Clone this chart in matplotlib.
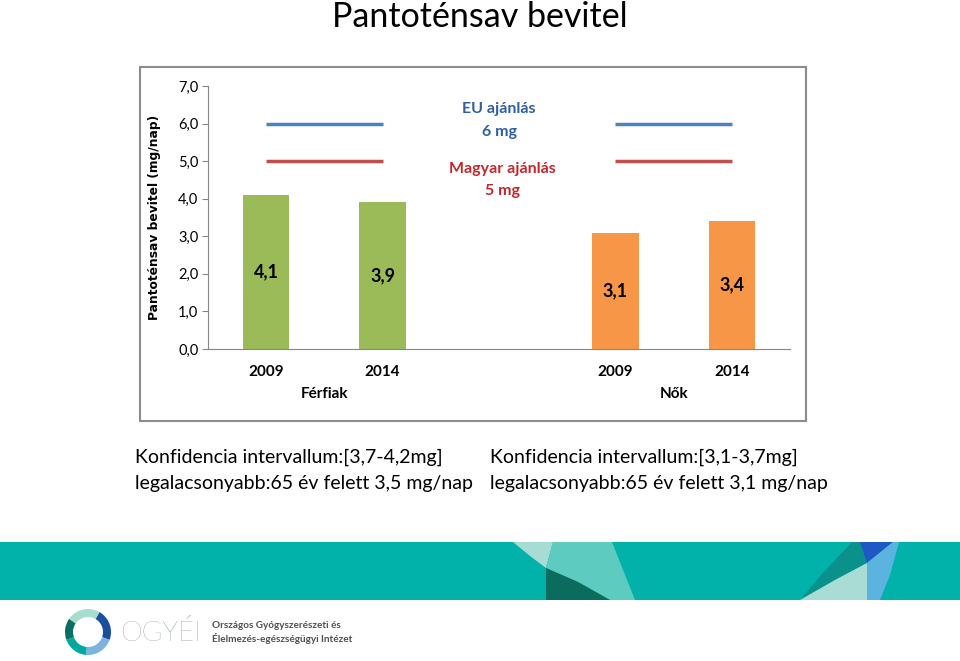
import numpy as np
import matplotlib
matplotlib.use('Agg')
import matplotlib.pyplot as plt
from matplotlib.patches import Rectangle, Polygon, Wedge

plt.rcParams['font.family'] = ['Lato', 'DejaVu Sans']

# data
groups = ['Férfiak', 'Nők']
years = ['2009', '2014']
values = [[4.1, 3.9], [3.1, 3.4]]
bar_colors = ['#9BBB59', '#F79646']
eu_ref = 6.0
hu_ref = 5.0
yticks = [0, 1, 2, 3, 4, 5, 6, 7]
title = 'Pantoténsav bevitel'
ylabel = 'Pantoténsav bevitel (mg/nap)'
notes_left = ['Konfidencia intervallum:[3,7-4,2mg]', 'legalacsonyabb:65 év felett 3,5 mg/nap']
notes_right = ['Konfidencia intervallum:[3,1-3,7mg]', 'legalacsonyabb:65 év felett 3,1 mg/nap']

def fmt(v):
    return ('%.1f' % v).replace('.', ',')

fig = plt.figure(figsize=(9.6, 6.61), dpi=100)

# background layer in pixel units
bg = fig.add_axes([0, 0, 1, 1], zorder=0)
bg.set_xlim(0, 960)
bg.set_ylim(661, 0)
bg.axis('off')

bg.text(480, 17, title, ha='center', va='center', fontsize=24.5, color='black')

# chart frame
bg.add_patch(Rectangle((140, 67), 666, 354, facecolor='white', edgecolor='#8C8C8C', lw=1.5))

# notes
for i, t in enumerate(notes_left):
    bg.text(135, 457 + i * 26, t, ha='left', va='center', fontsize=14)
for i, t in enumerate(notes_right):
    bg.text(490, 457 + i * 26, t, ha='left', va='center', fontsize=14)

# banner
bg.add_patch(Rectangle((0, 542), 960, 58, facecolor='#00B2A9', edgecolor='none'))
bg.add_patch(Polygon([(513, 542), (553, 542), (546, 568), (530, 556)], facecolor='#A6DCD4', edgecolor='none'))
bg.add_patch(Polygon([(553, 542), (612, 542), (635, 600), (610, 600), (578, 582), (546, 568)], facecolor='#5DCBC0', edgecolor='none'))
bg.add_patch(Polygon([(546, 568), (578, 582), (610, 600), (546, 600)], facecolor='#0B6B5C', edgecolor='none'))
bg.add_patch(Polygon([(800, 600), (822, 574), (852, 542), (862, 542), (867, 563), (835, 580)], facecolor='#0A918B', edgecolor='none'))
bg.add_patch(Polygon([(860, 542), (893, 542), (867, 563)], facecolor='#1E58C4', edgecolor='none'))
bg.add_patch(Polygon([(800, 600), (835, 580), (867, 563), (867, 600)], facecolor='#A9DCD5', edgecolor='none'))
bg.add_patch(Polygon([(867, 563), (893, 542), (899, 542), (890, 575), (880, 600), (867, 600)], facecolor='#5BB4E0', edgecolor='none'))

# logo
ring = [(-60, 20, '#1B4F9C'), (20, 95, '#7DB3E0'), (95, 160, '#00A99D'),
        (160, 215, '#0B6E62'), (215, 300, '#A8DCCF')]
for a1, a2, c in ring:
    bg.add_patch(Wedge((88, 632), 23, a1, a2, width=8, facecolor=c, edgecolor='none'))
bg.text(120, 633, 'OGYÉI', ha='left', va='center', fontsize=20, color='#6E8088', fontweight='light')
bg.text(212, 626, 'Országos Gyógyszerészeti és', ha='left', va='center', fontsize=7.2, color='#505050', fontweight='bold')
bg.text(212, 638, 'Élelmezés-egészségügyi Intézet', ha='left', va='center', fontsize=7.2, color='#505050', fontweight='bold')

# chart
ax = fig.add_axes([208 / 960, 1 - 349 / 661, 582 / 960, 263 / 661], zorder=1)
ax.set_facecolor('none')
ax.set_xlim(-0.5, 4.5)
ax.set_ylim(0, 7)

for gi, g in enumerate(groups):
    xs = [gi * 3 + j for j in range(len(years))]
    ax.bar(xs, values[gi], width=0.4, color=bar_colors[gi], zorder=2)
    for x, v, yr in zip(xs, values[gi], years):
        ax.text(x, v / 2, fmt(v), ha='center', va='center', fontsize=13, fontweight='bold')
        ax.text(x, -0.61, yr, ha='center', va='center', fontsize=11, fontweight='bold', clip_on=False)
    ax.text(np.mean(xs), -1.2, g, ha='center', va='center', fontsize=11, fontweight='bold', clip_on=False)
    ax.hlines(eu_ref, xs[0], xs[-1], color='#4F81BD', lw=2.5, zorder=3)
    ax.hlines(hu_ref, xs[0], xs[-1], color='#C0504D', lw=2.5, zorder=3)

ax.text(2.0, eu_ref + 0.39, 'EU ajánlás', ha='center', va='center', fontsize=11.5, fontweight='bold', color='#2F5EA3')
ax.text(2.0, eu_ref - 0.22, f'{eu_ref:.0f} mg', ha='center', va='center', fontsize=11.5, fontweight='bold', color='#2F5EA3')
ax.text(2.03, hu_ref - 0.21, 'Magyar ajánlás', ha='center', va='center', fontsize=11.5, fontweight='bold', color='#C0282D')
ax.text(2.03, hu_ref - 0.79, f'{hu_ref:.0f} mg', ha='center', va='center', fontsize=11.5, fontweight='bold', color='#C0282D')

ax.set_yticks(yticks)
ax.set_yticklabels([fmt(v) for v in yticks], fontsize=10.5)
ax.set_xticks([])
for s in ['top', 'right']:
    ax.spines[s].set_visible(False)
for s in ['left', 'bottom']:
    ax.spines[s].set_color('#868686')
    ax.spines[s].set_linewidth(0.8)
ax.tick_params(axis='y', direction='out', length=4, color='#868686', pad=3)
ax.set_ylabel(ylabel, fontsize=8.8, fontweight='bold', family=['DejaVu Sans'])
ax.yaxis.set_label_coords(-0.08, 0.5)

fig.savefig('out.png', dpi=100)
